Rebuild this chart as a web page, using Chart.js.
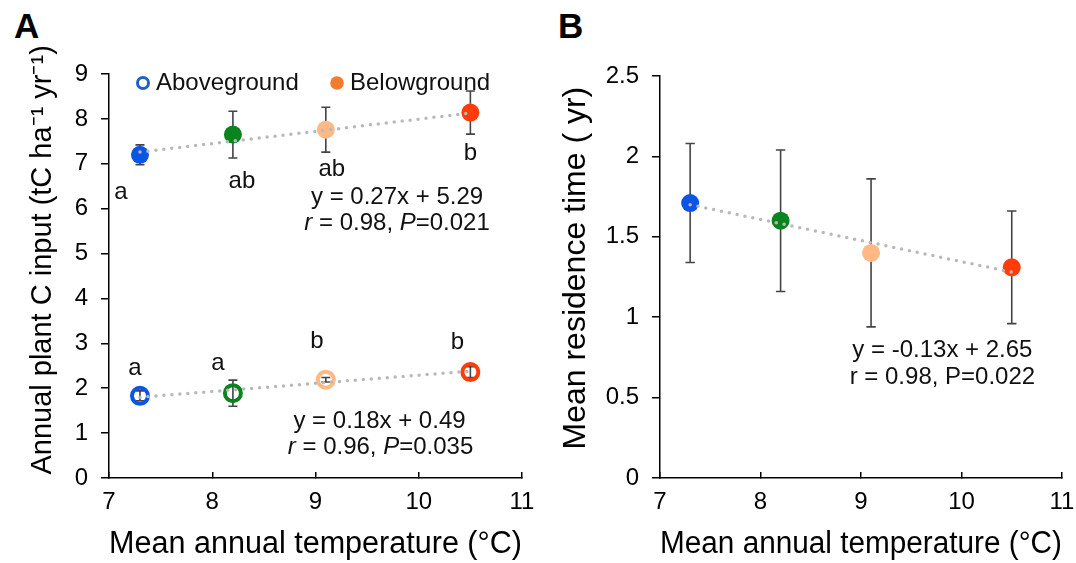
<!DOCTYPE html>
<html>
<head>
<meta charset="utf-8">
<script src="https://cdn.jsdelivr.net/npm/chart.js@4.4.1/dist/chart.umd.min.js"></script>
<style>
  html, body { margin: 0; padding: 0; background: #fff; }
  body { width: 1076px; height: 563px; position: relative; overflow: hidden; font-family: Arial, "Liberation Sans", sans-serif; }
  .panel { position: absolute; top: 0; height: 563px; }
  .tag { position: absolute; top: 6px; font-weight: bold; font-size: 35px; color: #000; }
</style>
</head>
<body>
<div class="tag" style="left:14px">A</div>
<div class="tag" style="left:558px">B</div>
<div class="panel" style="left:0;width:540px"><canvas id="chartA"></canvas></div>
<div class="panel" style="left:540px;width:536px"><canvas id="chartB"></canvas></div>
<script>
// data
const temps = [7.3, 8.2, 9.1, 10.5];

const belowInput = [7.20, 7.65, 7.76, 8.14];
const belowErr = [0.22, 0.52, 0.50, 0.48];
const belowLetters = ['a', 'ab', 'ab', 'b'];

const aboveInput = [1.83, 1.89, 2.19, 2.36];
const aboveErr = [0.11, 0.29, 0.05, 0.12];
const aboveLetters = ['a', 'a', 'b', 'b'];

const residence = [1.71, 1.60, 1.40, 1.31];
const residenceErr = [0.37, 0.44, 0.46, 0.35];

// fitted lines, end points
const fitX = [7.3, 10.5];
const belowFit = [7.26, 8.13];
const aboveFit = [1.80, 2.38];
const residenceFit = [1.70, 1.28];

const xTicks = [7, 8, 9, 10, 11];

// styling
const siteColors = ['#0a55e6', '#0b8420', '#ffb984', '#ff3c0a'];
const FONT = 'Arial, "Liberation Sans", sans-serif';
const fitColor = '#b9b9b9';
const barColor = '#444';

// letter offsets in pixels from each point
const belowLetterOffsets = [[-19, 38], [9, 47], [6, 40], [0, 41]];
const aboveLetterOffsets = [[-5, -27], [-15, -30], [-9, -38], [-13, -30]];

function pts(xs, ys) {
    return xs.map((x, i) => ({x: x, y: ys[i]}));
}

function fitDataset(ys) {
    return {
        data: pts(fitX, ys),
        showLine: true,
        pointRadius: 0,
        borderColor: fitColor,
        borderWidth: 3.5,
        borderDash: [0, 8],
        borderCapStyle: 'round',
        order: 0
    };
}

function makeOverlay(cfg) {
    return {
        id: 'overlay',
        beforeDatasetsDraw(chart) {
            const ctx = chart.ctx;
            const xs = chart.scales.x, ys = chart.scales.y;
            ctx.save();
            ctx.strokeStyle = barColor;
            ctx.lineWidth = 1.6;
            cfg.bars.forEach(b => {
                b.x.forEach((xv, i) => {
                    const px = xs.getPixelForValue(xv);
                    const top = ys.getPixelForValue(b.y[i] + b.err[i]);
                    const bot = ys.getPixelForValue(b.y[i] - b.err[i]);
                    ctx.beginPath();
                    ctx.moveTo(px, top); ctx.lineTo(px, bot);
                    ctx.moveTo(px - b.cap, top); ctx.lineTo(px + b.cap, top);
                    ctx.moveTo(px - b.cap, bot); ctx.lineTo(px + b.cap, bot);
                    ctx.stroke();
                });
            });
            ctx.restore();
        },
        afterDraw(chart) {
            const ctx = chart.ctx;
            const xs = chart.scales.x, ys = chart.scales.y;
            ctx.save();
            ctx.fillStyle = '#111';
            ctx.textBaseline = 'middle';
            ctx.font = '24px ' + FONT;
            ctx.textAlign = 'center';
            (cfg.letters || []).forEach(l => {
                l.labels.forEach((t, i) => {
                    const px = xs.getPixelForValue(l.x[i]) + l.offsets[i][0];
                    const py = ys.getPixelForValue(l.y[i]) + l.offsets[i][1];
                    ctx.fillText(t, px, py);
                });
            });
            ctx.textAlign = 'left';
            cfg.text.forEach(line => {
                let w = 0;
                line.parts.forEach(p => {
                    ctx.font = (p[1] ? 'italic ' : '') + '24px ' + FONT;
                    w += ctx.measureText(p[0]).width;
                });
                let px = xs.getPixelForValue(line.x) - w / 2;
                const py = ys.getPixelForValue(line.y);
                line.parts.forEach(p => {
                    ctx.font = (p[1] ? 'italic ' : '') + '24px ' + FONT;
                    ctx.fillText(p[0], px, py);
                    px += ctx.measureText(p[0]).width;
                });
            });
            if (cfg.legend) {
                const a = chart.chartArea;
                const ly = a.top + 9;
                ctx.font = '24px ' + FONT;
                ctx.beginPath();
                ctx.arc(a.left + 34, ly, 5.5, 0, Math.PI * 2);
                ctx.strokeStyle = '#1f5fcc';
                ctx.lineWidth = 3;
                ctx.stroke();
                ctx.fillStyle = '#111';
                ctx.fillText('Aboveground', a.left + 47, ly);
                ctx.beginPath();
                ctx.arc(a.left + 228, ly, 6.8, 0, Math.PI * 2);
                ctx.fillStyle = '#f47b2e';
                ctx.fill();
                ctx.fillStyle = '#111';
                ctx.fillText('Belowground', a.left + 241, ly);
            }
            ctx.restore();
        }
    };
}

function axes(yMax, yStep, yTitle, yTitleSize, yTitlePad, yWidth) {
    return {
        x: {
            type: 'linear', min: 7, max: 11,
            afterBuildTicks: s => { s.ticks = xTicks.map(v => ({value: v})); },
            afterFit: s => { s.height = 85; s.paddingLeft = 0; s.paddingRight = 0; },
            ticks: {font: {family: FONT, size: 24}, color: '#000', padding: 16},
            grid: {drawOnChartArea: false, tickLength: -6, color: '#000', lineWidth: 1.5},
            border: {color: '#000', width: 1.5},
            title: {display: true, text: 'Mean annual temperature (°C)', color: '#000',
                    font: {family: FONT, size: 31}, padding: {top: 0, bottom: 0}}
        },
        y: {
            type: 'linear', min: 0, max: yMax,
            afterFit: s => { s.width = yWidth; s.paddingTop = 0; s.paddingBottom = 0; },
            ticks: {stepSize: yStep, font: {family: FONT, size: 24}, color: '#000', padding: 13,
                    callback: v => String(v)},
            grid: {drawOnChartArea: false, tickLength: 8, color: '#000', lineWidth: 1.5},
            border: {color: '#000', width: 1.5},
            title: {display: true, text: yTitle, color: '#000',
                    font: {family: FONT, size: yTitleSize}, padding: {top: yTitlePad, bottom: 0}}
        }
    };
}

function baseOptions(pad, scales) {
    return {
        responsive: true,
        maintainAspectRatio: false,
        animation: false,
        layout: {padding: pad},
        plugins: {legend: {display: false}, tooltip: {enabled: false}},
        scales: scales
    };
}

new Chart(document.getElementById('chartA'), {
    type: 'scatter',
    data: {
        datasets: [
            {
                label: 'Belowground',
                data: pts(temps, belowInput),
                pointRadius: 9,
                pointBackgroundColor: siteColors,
                pointBorderWidth: 0,
                order: 1
            },
            {
                label: 'Aboveground',
                data: pts(temps, aboveInput),
                pointRadius: 8,
                pointBackgroundColor: 'rgba(0,0,0,0)',
                pointBorderColor: siteColors,
                pointBorderWidth: 4,
                order: 1
            },
            fitDataset(belowFit),
            fitDataset(aboveFit)
        ]
    },
    options: baseOptions({left: 0, right: 18, top: 74, bottom: 0},
        axes(9, 1, '    Annual plant C input (tC ha⁻¹ yr⁻¹)', 29, 26, 109)),
    plugins: [makeOverlay({
        bars: [
            {x: temps, y: belowInput, err: belowErr, cap: 4.5},
            {x: temps, y: aboveInput, err: aboveErr, cap: 4.5}
        ],
        letters: [
            {x: temps, y: belowInput, labels: belowLetters, offsets: belowLetterOffsets},
            {x: temps, y: aboveInput, labels: aboveLetters, offsets: aboveLetterOffsets}
        ],
        text: [
            {x: 9.79, y: 6.26, parts: [['y = 0.27x + 5.29']]},
            {x: 9.79, y: 5.68, parts: [['r', true], [' = 0.98, '], ['P', true], ['=0.021']]},
            {x: 9.62, y: 1.27, parts: [['y = 0.18x + 0.49']]},
            {x: 9.63, y: 0.69, parts: [['r', true], [' = 0.96, '], ['P', true], ['=0.035']]}
        ],
        legend: true
    })]
});

new Chart(document.getElementById('chartB'), {
    type: 'scatter',
    data: {
        datasets: [
            {
                label: 'Mean residence time',
                data: pts(temps, residence),
                pointRadius: 9,
                pointBackgroundColor: siteColors,
                pointBorderWidth: 0,
                order: 1
            },
            fitDataset(residenceFit)
        ]
    },
    options: baseOptions({left: 0, right: 14, top: 76, bottom: 0},
        axes(2.5, 0.5, '  Mean residence time ( yr)', 32, 17, 120)),
    plugins: [makeOverlay({
        bars: [{x: temps, y: residence, err: residenceErr, cap: 4.7}],
        text: [
            {x: 9.81, y: 0.796, parts: [['y = -0.13x + 2.65']]},
            {x: 9.81, y: 0.628, parts: [['r = 0.98, P=0.022']]}
        ]
    })]
});
</script>
</body>
</html>
